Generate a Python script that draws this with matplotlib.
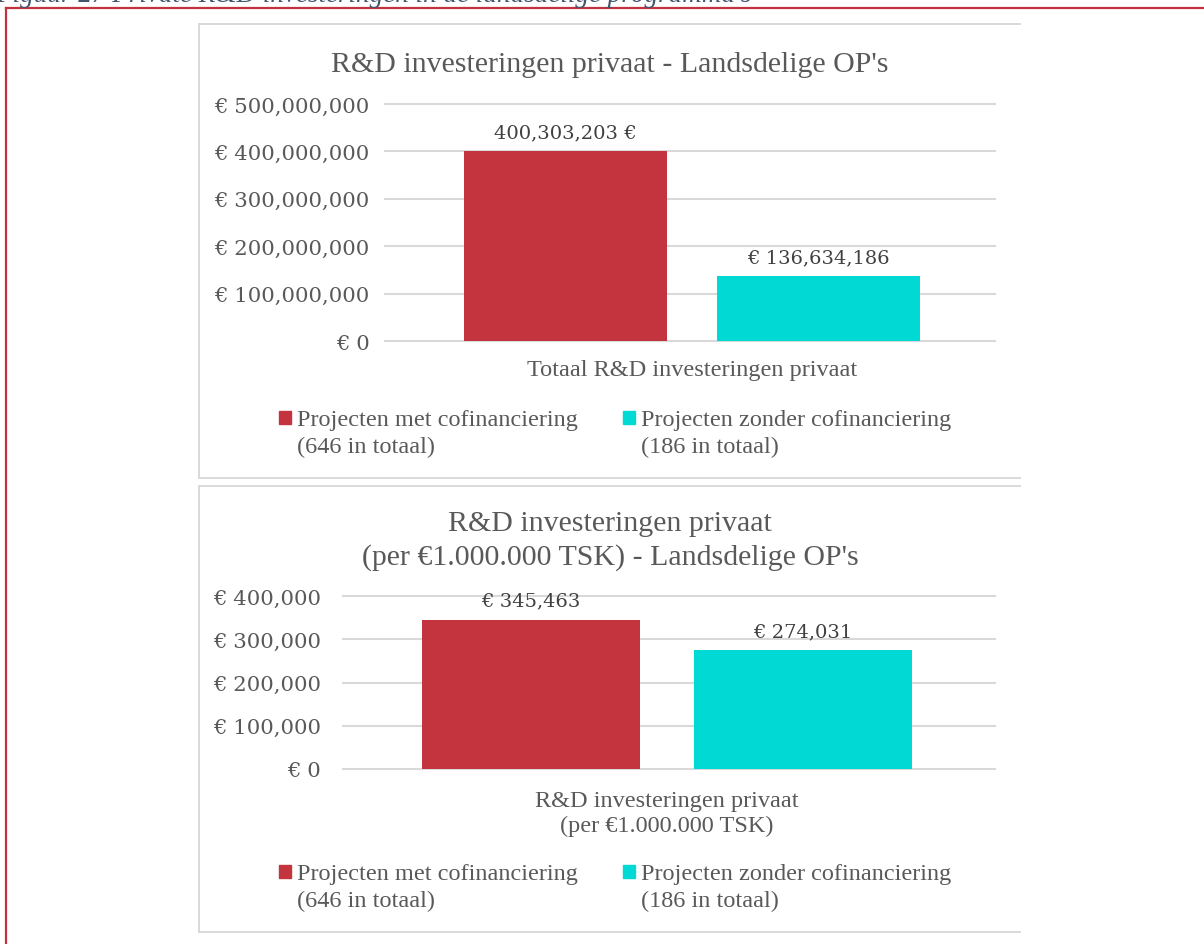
import matplotlib
matplotlib.use("Agg")
import matplotlib.pyplot as plt
from matplotlib.patches import Rectangle
from matplotlib.lines import Line2D
from matplotlib.legend_handler import HandlerPatch
from matplotlib.ticker import FuncFormatter

# ---------------- data ----------------
series = ["Projecten met cofinanciering\n(646 in totaal)",
          "Projecten zonder cofinanciering\n(186 in totaal)"]
colors = ["#c3343f", "#00d9d4"]

top_title = "R&D investeringen privaat - Landsdelige OP's"
top_category = "Totaal R&D investeringen privaat"
top_values = [400303203, 136634186]
top_labels = ["400,303,203 €", "€ 136,634,186"]
top_ticks = [0, 100000000, 200000000, 300000000, 400000000, 500000000]

bot_title = "R&D investeringen privaat\n(per €1.000.000 TSK) - Landsdelige OP's"
bot_category = "R&D investeringen privaat\n(per €1.000.000 TSK)"
bot_values = [345463, 274031]
bot_labels = ["€ 345,463", "€ 274,031"]
bot_ticks = [0, 100000, 200000, 300000, 400000]

caption = "Figuur 27 Private R&D investeringen in de landsdelige programma's"

# ---------------- style ----------------
W, H = 1204, 945
TXT = "#595959"
LBL = "#404040"
GRID = "#d9d9d9"
SERIF_W = ["Liberation Serif", "DejaVu Serif"]
SERIF_N = ["DejaVu Serif"]

fig = plt.figure(figsize=(W / 100, H / 100), dpi=100)
fig.patch.set_facecolor("white")


def fx(px):
    return px / W


def fy(py):
    return 1 - py / H


def ax_px(l, t, r, b):
    return fig.add_axes([fx(l), fy(b), (r - l) / W, (b - t) / H])


# outer red frame and caption (the reference shows it cut at the top edge)
fig.add_artist(Line2D([fx(6), 1.0], [fy(9), fy(9)], color="#c0343f", lw=1.6))
fig.add_artist(Line2D([fx(6), fx(6)], [fy(9), 0.0], color="#c0343f", lw=1.6))
fig.text(fx(-4), fy(2), caption, fontsize=19.5, style="italic", color="#44546a",
         family=SERIF_W, ha="left", va="baseline")

# panels
for (t, b) in [(25, 479), (487, 933)]:
    fig.add_artist(Line2D([fx(199), fx(1020)], [fy(t), fy(t)], color=GRID, lw=1.4))
    fig.add_artist(Line2D([fx(199), fx(1020)], [fy(b), fy(b)], color=GRID, lw=1.4))
    fig.add_artist(Line2D([fx(199), fx(199)], [fy(t), fy(b)], color=GRID, lw=1.4))


def shifted_square(legend, orig_handle, xdescent, ydescent, width, height, fontsize):
    s = 0.5 * fontsize
    return Rectangle((-xdescent + width - s, -ydescent + 0.72 * fontsize), s, s)


def draw_chart(ax, values, labels, ticks, category, xlim, ymax, tick_pad, cat_pad, lab_off):
    x = [0, 1]
    ax.bar(x, values, width=0.8, color=colors, zorder=3)
    for xi, v, lab in zip(x, values, labels):
        ax.annotate(lab, (xi, v), xytext=(0, lab_off), textcoords="offset pixels",
                    ha="center", va="bottom", fontsize=14, color=LBL, family=SERIF_N)
    ax.set_xlim(*xlim)
    ax.set_ylim(0, ymax)
    ax.set_yticks(ticks)
    ax.yaxis.set_major_formatter(FuncFormatter(lambda v, p: "€ {:,.0f}".format(v)))
    ax.grid(axis="y", color=GRID, lw=1.5, zorder=0)
    for gl in ax.get_ygridlines():
        gl.set_clip_on(False)
    for s in ax.spines.values():
        s.set_visible(False)
    ax.tick_params(axis="y", length=0, pad=tick_pad, labelsize=15.3, labelcolor=TXT)
    for t in ax.get_yticklabels():
        t.set_family(SERIF_N)
    ax.set_xticks([0.5])
    ax.set_xticklabels([category], family=SERIF_W, fontsize=17.5, color=TXT,
                       linespacing=1.25)
    ax.tick_params(axis="x", length=0, pad=cat_pad)
    ax.set_facecolor("none")


def add_legend(top_px):
    handles = [Rectangle((0, 0), 1, 1, color=c) for c in colors]
    leg = fig.legend(handles, series, loc="upper left",
                     bbox_to_anchor=(fx(279), fy(top_px)),
                     ncol=2, frameon=False, labelcolor=TXT,
                     prop={"family": SERIF_W, "size": 17.5},
                     handler_map={Rectangle: HandlerPatch(patch_func=shifted_square)},
                     handlelength=0.5, handletextpad=0.25, columnspacing=1.85,
                     borderaxespad=0, borderpad=0)
    for t in leg.get_texts():
        t.set_linespacing(1.38)


# ---- top chart ----
ax1 = ax_px(385, 105, 995, 342)
draw_chart(ax1, top_values, top_labels, top_ticks, top_category,
           (-0.713, 1.698), 500000000, 11, 13, 10)
fig.text(fx(610), fy(65), top_title, ha="center", va="center", fontsize=21.5,
         color=TXT, family=SERIF_W)
add_legend(410)

# ---- bottom chart ----
ax2 = ax_px(343, 597, 995, 770)
draw_chart(ax2, bot_values, bot_labels, bot_ticks, bot_category,
           (-0.691, 1.706), 400000, 16, 15, 10)
fig.text(fx(610), fy(541), bot_title, ha="center", va="center", fontsize=21.5,
         color=TXT, family=SERIF_W, linespacing=1.3)
add_legend(864)

fig.savefig("out.png", dpi=100, facecolor="white")
